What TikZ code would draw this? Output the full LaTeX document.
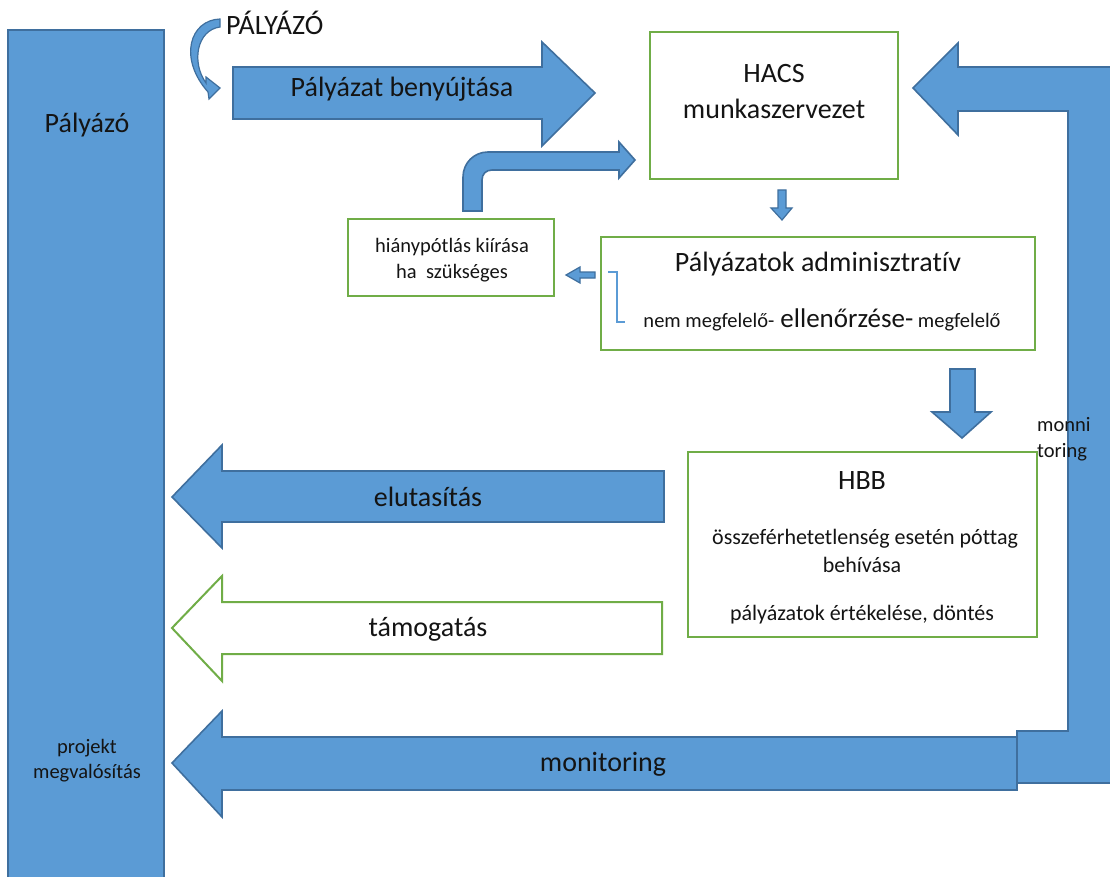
\documentclass[tikz,border=0pt]{standalone}
\usepackage{fontspec}
\setmainfont{Carlito}[Ligatures={NoCommon}]
\definecolor{arrowblue}{HTML}{5B9BD5}
\definecolor{edgeblue}{HTML}{3F6F9E}
\definecolor{boxgreen}{HTML}{70AD47}
\definecolor{txt}{HTML}{141414}
\tikzset{
  blk/.style={fill=arrowblue, draw=edgeblue, line width=1.6pt, line join=miter},
  garrow/.style={fill=white, draw=boxgreen, line width=2pt, line join=miter},
  gbox/.style={draw=boxgreen, line width=2.4pt, fill=white, inner sep=0pt},
  big/.style={font=\fontsize{28}{33}\selectfont, text=txt, inner sep=0pt},
  mid/.style={font=\fontsize{22}{26}\selectfont, text=txt, inner sep=0pt},
  small/.style={font=\fontsize{20.5}{25}\selectfont, text=txt, inner sep=0pt},
}
\begin{document}
\begin{tikzpicture}[x=1pt,y=-1pt]
\useasboundingbox (0,0) rectangle (1110,877);
\clip (0,0) rectangle (1110,877);
\fill[white] (0,0) rectangle (1110,877);

% left bar
\node[blk, minimum width=156pt, minimum height=870pt, inner sep=0pt, line width=2pt] (bar) at (86,465) {};
\node[big, anchor=base] (palyazo) at (87,133) {Pályázó};
\node[small, anchor=base] (projekt) at (87,753) {projekt};
\node[small, anchor=base] (megval) at (87,778) {megvalósítás};

% boxes
\node[gbox, minimum width=248pt, minimum height=147pt] (hacs) at (774,105.5) {};
\node[big, anchor=base] (hacs1) at (774,83) {HACS};
\node[big, anchor=base] (hacs2) at (774,119) {munkaszervezet};

\node[gbox, minimum width=434pt, minimum height=113pt] (admin) at (818,293.5) {};
\node[big, anchor=base] (admin1) at (818,271) {Pályázatok adminisztratív};
\node[anchor=base, text=txt, inner sep=0pt] (admin2) at (822,327)
  {{\fontsize{20.5}{24}\selectfont nem megfelelő-}{\fontsize{27}{32}\selectfont\ ellenőrzése-}{\fontsize{20.5}{24}\selectfont\ megfelelő}};
\coordinate (brA) at (608,272);
\coordinate (brB) at (617,272);
\coordinate (brC) at (617,322);
\coordinate (brD) at (625,322);
\draw[arrowblue, line width=1.2pt] (brA) -- (brB) -- (brC) -- (brD);

\node[gbox, minimum width=206pt, minimum height=77pt] (hiany) at (451,257.5) {};
\node[small, anchor=base] (hiany1) at (452,252) {hiánypótlás kiírása};
\node[small, anchor=base] (hiany2) at (452,278) {ha\ \ szükséges};

\node[gbox, minimum width=349pt, minimum height=185pt] (hbb) at (862.5,544.5) {};
\node[big, anchor=base] (hbb1) at (862,489) {HBB};
\node[mid, anchor=base] (hbb2) at (865,544) {összeférhetetlenség esetén póttag};
\node[mid, anchor=base] (hbb3) at (862,572) {behívása};
\node[mid, anchor=base] (hbb4) at (862,620) {pályázatok értékelése, döntés};

% Pályázat benyújtása arrow
\draw[blk] (233,67) -- (542,67) -- (542,42) -- (595,93) -- (542,146) -- (542,119) -- (233,119) -- cycle;
\node[big, anchor=base] (benyujt) at (402,97) {Pályázat benyújtása};

% PÁLYÁZÓ curved arrow
\node[big, anchor=base west] (palyazoT) at (226,35) {PÁLYÁZÓ};
\draw[blk, line width=1.2pt] (220,19) .. controls (190,20) and (178,58) .. (208,92)
  -- (209,99) -- (220,88) -- (206,77) -- (206,83)
  .. controls (191,62) and (197,30) .. (220,27) -- cycle;

% bent arrow from hiánypótlás to HACS
\draw[blk] (463,211) -- (463,177) .. controls (463,163) and (474,152) .. (488,152)
  -- (619,152) -- (619,142) -- (635,160) -- (619,178) -- (619,170) -- (492,170)
  .. controls (486,170) and (482,174) .. (482,180) -- (482,211) -- cycle;

% small down arrow under HACS
\draw[blk, line width=1.2pt] (778,190) -- (786,190) -- (786,208) -- (792,208) -- (782,220) -- (771,208) -- (778,208) -- cycle;

% small left arrow to hiánypótlás
\draw[blk, line width=1.2pt] (595,272) -- (580,272) -- (580,267) -- (566,275) -- (580,283) -- (580,278) -- (595,278) -- cycle;

% big down arrow to HBB
\draw[blk] (950,369) -- (975,369) -- (975,412) -- (991,412) -- (962,438) -- (932,412) -- (950,412) -- cycle;

% right L-shaped monitoring arrow
\draw[blk] (913,88) -- (958,43) -- (958,67) -- (1120,67) -- (1120,783) -- (1017,783) -- (1017,731)
  -- (1068,731) -- (1068,111) -- (958,111) -- (958,135) -- cycle;
\node[small, anchor=base west] (monni1) at (1037,431) {monni};
\node[small, anchor=base west] (monni2) at (1037,457) {toring};

% elutasítás arrow
\draw[blk] (172,497) -- (222,445) -- (222,471) -- (664,471) -- (664,522) -- (222,522) -- (222,548) -- cycle;
\node[big, anchor=base] (elut) at (428,506) {elutasítás};

% támogatás arrow
\draw[garrow] (172,628) -- (222,576) -- (222,602) -- (662,602) -- (662,654) -- (222,654) -- (222,681) -- cycle;
\node[big, anchor=base] (tamog) at (428,636) {támogatás};

% monitoring arrow
\draw[blk] (172,763) -- (222,711) -- (222,737) -- (1017,737) -- (1017,790) -- (222,790) -- (222,817) -- cycle;
\node[big, anchor=base] (monit) at (603,771) {monitoring};
\end{tikzpicture}
\end{document}
